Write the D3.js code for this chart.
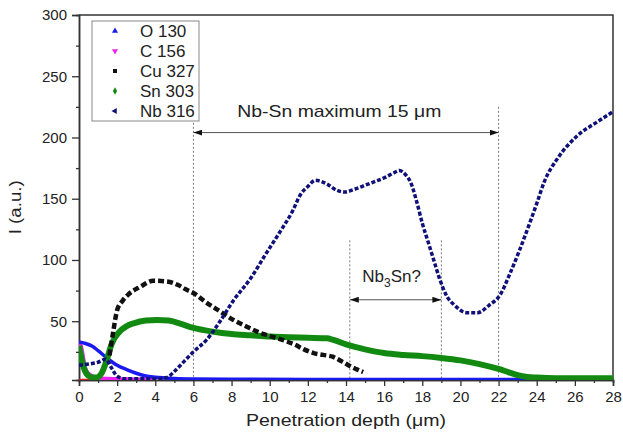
<!DOCTYPE html>
<html>
<head>
  <title>Depth profile</title>
  <script src="https://d3js.org/d3.v7.min.js"></script>
  <style>
    body { margin: 0; background: #fff; }
    svg text { font-family: "Liberation Sans", Arial, sans-serif; fill: #222; }
    .axis .domain { stroke: #333; stroke-width: 1.5; }
    .axis line { stroke: #333; stroke-width: 1.3; }
    .axis text { font-size: 15px; }
  </style>
</head>
<body>
  <svg id="chart" width="623" height="439">
    <defs>
      <marker id="head" markerWidth="9" markerHeight="6" refX="9" refY="3" orient="auto-start-reverse" markerUnits="userSpaceOnUse">
        <path d="M 0 0 L 9 3 L 0 6 Z" fill="#111" />
      </marker>
    </defs>
  </svg>

  <script>
    // series: depth (um) and intensity (a.u.)
    const oDepth = [0, 0.3, 0.7, 1.0, 1.5, 2.0, 2.5, 3.0, 3.5, 4.0, 5.0, 6.0, 8, 12, 16, 20, 24, 28];
    const oI     = [33, 32, 29.5, 26, 19.5, 14, 10.5, 7.5, 5.2, 4.2, 3.2, 2.8, 2.6, 2.5, 2.5, 2.5, 2.5, 2.5];

    const cDepth = [0, 0.1, 0.2, 0.3, 0.45, 0.6, 0.8, 1.0, 1.5, 2.0, 2.5, 3.0, 4.0];
    const cI     = [32, 30, 22, 13, 8, 6, 4.5, 3.5, 3, 2.8, 2.6, 2.5, 2.5];

    const cuDepth = [1.6, 1.8, 2.0, 2.3, 2.6, 3.2, 3.9, 4.6, 5.2, 5.6, 6.0, 6.7, 7.4, 8.1, 8.8, 9.5, 10.2, 10.8, 11.3, 11.8, 12.3, 12.8, 13.3, 13.8, 14.2, 14.6, 14.9];
    const cuI     = [22, 42, 59, 67, 72, 78, 83, 82.5, 79.5, 76, 73, 65, 58, 51, 45.5, 40.5, 37, 34, 31, 27, 24, 22.5, 21, 17, 13.5, 10.5, 8.5];

    const snDepth = [0, 0.1, 0.25, 0.4, 0.6, 0.9, 1.2, 1.45, 1.7, 2.1, 2.5, 2.9, 3.5, 4.1, 4.7, 5.3, 6.0, 7.0, 8.0, 9.0, 10, 11, 12, 13, 13.3, 14, 15, 16, 17, 18, 19, 20, 21, 22, 22.5, 23, 23.5, 24, 25, 26, 27, 28];
    const snI     = [30, 22, 12, 7, 4.5, 4, 8, 18, 31, 41, 46, 48.5, 50.5, 51, 50.5, 48, 44.5, 41.5, 39.5, 38.5, 37.5, 37, 36.5, 36, 35, 31, 27, 24, 22.5, 21.5, 20, 18, 15, 11, 8.5, 6, 4.5, 4, 3.5, 3.5, 3.5, 3.5];

    const nbDepth = [0, 0.5, 1.0, 1.4, 1.7, 2.0, 2.4, 3, 4, 4.6, 5.0, 5.5, 6.0, 6.7, 7.4, 8.1, 9.0, 9.8, 10.5, 11.2, 11.6, 12.0, 12.4, 13.0, 13.5, 13.9, 14.5, 15.0, 15.5, 16.0, 16.5, 16.8, 17.1, 17.4, 17.7, 18.0, 18.3, 18.6, 18.9, 19.3, 19.7, 20.3, 20.9, 21.5, 22.1, 22.6, 23.1, 23.7, 24.0, 24.4, 25.1, 26.1, 27.2, 28];
    const nbI     = [14, 15, 16.5, 19, 12, 5, 3, 3, 3, 4, 9, 17, 25, 35, 50, 67, 85, 105, 122, 140, 153, 160, 165, 162, 157, 155.5, 158, 161, 164, 167, 171, 173, 170, 163, 148, 130, 115, 100, 85, 70, 63, 57, 57, 63, 72, 89, 108, 133, 146, 164, 183, 201, 213, 221];

    // short red trace along the bottom, not in the legend
    const redDepth = [0, 3.2];
    const redI     = [2.3, 2.3];

    const legendNames = ["O 130", "C 156", "Cu 327", "Sn 303", "Nb 316"];
    const xTicks = d3.range(0, 29, 2);
    const yTicks = [50, 100, 150, 200, 250, 300];

    let svg = d3.select("#chart");
    let margin = {top: 15, right: 10, bottom: 59, left: 79};
    let width = 623 - margin.left - margin.right;
    let height = 439 - margin.top - margin.bottom;

    let x = d3.scaleLinear().domain([0, 28]).range([0, width]);
    let y = d3.scaleLinear().domain([2, 300]).range([height, 0]);

    let chart = svg.append("g").attr("transform", `translate(${margin.left}, ${margin.top})`);

    chart.append("clipPath").attr("id", "plot")
      .append("rect").attr("width", width).attr("height", height);

    // axes
    chart.append("g").attr("class", "axis")
      .attr("transform", `translate(0, ${height})`)
      .call(d3.axisBottom(x).tickValues(xTicks).tickSize(6).tickPadding(5));
    chart.append("g").attr("class", "axis")
      .attr("transform", `translate(0, ${height})`)
      .call(d3.axisBottom(x).tickValues(d3.range(1, 28, 2)).tickSize(3).tickFormat(""));
    chart.append("g").attr("class", "axis")
      .call(d3.axisLeft(y).tickValues(yTicks).tickSize(7).tickPadding(5));
    chart.append("g").attr("class", "axis")
      .call(d3.axisLeft(y).tickValues(d3.range(25, 300, 50)).tickSize(3).tickFormat(""));

    // frame top / right
    chart.append("path")
      .attr("d", `M0,0 H${width} V${height}`)
      .attr("fill", "none").attr("stroke", "#333").attr("stroke-width", 1.5);

    // axis titles
    chart.append("text")
      .attr("x", width / 2).attr("y", height + 46)
      .attr("text-anchor", "middle").style("font-size", "17px")
      .attr("textLength", 200).attr("lengthAdjust", "spacingAndGlyphs")
      .text("Penetration depth (\u03bcm)");
    chart.append("text")
      .attr("transform", `translate(${-58}, ${y(143)}) rotate(-90)`)
      .attr("text-anchor", "middle").style("font-size", "17px")
      .attr("textLength", 54).attr("lengthAdjust", "spacingAndGlyphs")
      .text("I (a.u.)");

    // dotted guide lines + arrows
    const guides = [
      {at: 6, top: 212}, {at: 22, top: 225}, {at: 14.2, top: 116}, {at: 19, top: 116}
    ];
    chart.selectAll(".guide").data(guides).enter().append("line")
      .attr("class", "guide")
      .attr("x1", d => x(d.at)).attr("x2", d => x(d.at))
      .attr("y1", d => y(d.top)).attr("y2", height)
      .attr("stroke", "#777").attr("stroke-width", 1).attr("stroke-dasharray", "2,2");

    const spans = [{from: 6, to: 22, level: 204}, {from: 14.2, to: 19, level: 67.5}];
    chart.selectAll(".span").data(spans).enter().append("line")
      .attr("class", "span")
      .attr("x1", d => x(d.from)).attr("x2", d => x(d.to))
      .attr("y1", d => y(d.level)).attr("y2", d => y(d.level))
      .attr("stroke", "#555").attr("stroke-width", 1)
      .attr("marker-start", "url(#head)").attr("marker-end", "url(#head)");

    chart.append("text")
      .attr("x", x(13.65)).attr("y", y(217))
      .attr("text-anchor", "middle").style("font-size", "17px")
      .attr("textLength", 204).attr("lengthAdjust", "spacingAndGlyphs")
      .text("Nb-Sn maximum 15 \u03bcm");

    let nb3 = chart.append("text")
      .attr("x", x(14.85)).attr("y", y(82))
      .style("font-size", "17px");
    nb3.append("tspan").text("Nb");
    nb3.append("tspan").attr("dy", 5).style("font-size", "12px").text("3");
    nb3.append("tspan").attr("dy", -5).text("Sn?");

    // series
    const series = [
      {xs: redDepth, ys: redI, color: "#e02020", w: 2, dash: null},
      {xs: cDepth, ys: cI, color: "#ee22ee", w: 4, dash: null},
      {xs: oDepth, ys: oI, color: "#1a1af0", w: 3.5, dash: null},
      {xs: snDepth, ys: snI, color: "#128a12", w: 6, dash: null},
      {xs: cuDepth, ys: cuI, color: "#111111", w: 4.5, dash: "6,3"},
      {xs: nbDepth, ys: nbI, color: "#10107a", w: 3.5, dash: "4,2"}
    ];

    let line = d3.line()
      .x(d => x(d[0])).y(d => y(d[1]))
      .curve(d3.curveMonotoneX);

    let plot = chart.append("g").attr("clip-path", "url(#plot)");
    series.forEach(s => {
      plot.append("path")
        .datum(s.xs.map((v, i) => [v, s.ys[i]]))
        .attr("d", line)
        .attr("fill", "none")
        .attr("stroke", s.color)
        .attr("stroke-width", s.w)
        .attr("stroke-dasharray", s.dash)
        .attr("stroke-linejoin", "round");
    });

    // legend
    const legendColors = ["#1a1af0", "#ee22ee", "#111111", "#128a12", "#10107a"];
    const legendShapes = [
      {type: d3.symbolTriangle, rot: 0},
      {type: d3.symbolTriangle, rot: 180},
      {type: d3.symbolSquare, rot: 0},
      {type: d3.symbolDiamond, rot: 0},
      {type: d3.symbolTriangle, rot: -90}
    ];
    let legend = chart.append("g").attr("transform", "translate(13, 6)");
    legend.append("rect")
      .attr("width", 107).attr("height", 100)
      .attr("fill", "#fff").attr("stroke", "#888").attr("stroke-width", 1);
    legendNames.forEach((name, i) => {
      let row = legend.append("g").attr("transform", `translate(0, ${10 + i * 20})`);
      row.append("path")
        .attr("d", d3.symbol().type(legendShapes[i].type).size(16))
        .attr("transform", `translate(23, 0) rotate(${legendShapes[i].rot})`)
        .attr("fill", legendColors[i]);
      row.append("text")
        .attr("x", 48).attr("y", 6)
        .style("font-size", "17px")
        .text(name);
    });
  </script>
</body>
</html>
